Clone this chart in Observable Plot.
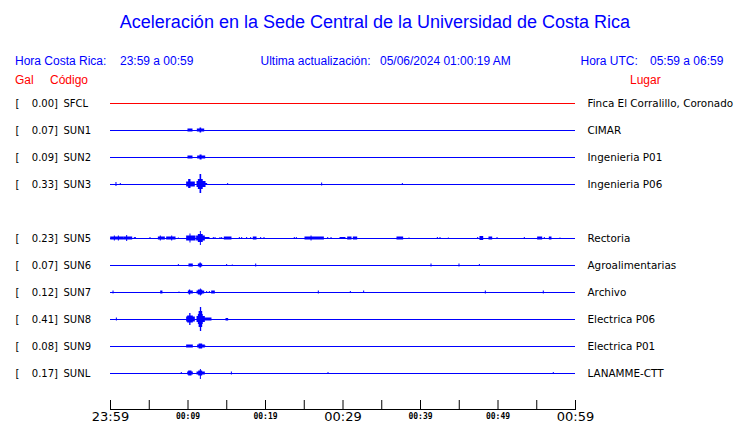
<!DOCTYPE html>
<html><head><meta charset="utf-8">
<script src="https://cdn.jsdelivr.net/npm/d3@7"></script>
<script src="https://cdn.jsdelivr.net/npm/@observablehq/plot@0.6"></script>
<style>
body{margin:0;background:#fff;}
#wrap{position:relative;width:740px;height:423px;overflow:hidden;font-family:"Liberation Sans",Arial,sans-serif;}
.h{position:absolute;white-space:pre;font-size:12px;line-height:14px;color:#0000ff;}
.r{color:#ff0000;}
#title{position:absolute;left:0;width:750px;text-align:center;top:11px;font-size:18px;line-height:22px;color:#0000ff;white-space:nowrap;}
#chart{position:absolute;left:0;top:90px;}
</style></head>
<body>
<div id="wrap">
  <div id="title">Aceleración en la Sede Central de la Universidad de Costa Rica</div>
  <div class="h" style="left:15px;top:53.5px">Hora Costa Rica:</div>
  <div class="h" style="left:120px;top:53.5px">23:59 a 00:59</div>
  <div class="h" style="left:260.5px;top:53.5px">Ultima actualización:</div>
  <div class="h" style="left:380px;top:53.5px">05/06/2024 01:00:19 AM</div>
  <div class="h" style="left:580.5px;top:53.5px">Hora UTC:</div>
  <div class="h" style="left:650px;top:53.5px">05:59 a 06:59</div>
  <div class="h r" style="left:15px;top:73px">Gal</div>
  <div class="h r" style="left:50px;top:73px">Código</div>
  <div class="h r" style="left:630px;top:73px">Lugar</div>
  <div id="chart"></div>
</div>
<script>
// Slots (rows) of the display; SUN4 has no trace
const slots = ["SFCL","SUN1","SUN2","SUN3","SUN4","SUN5","SUN6","SUN7","SUN8","SUN9","SUNL"];
const codes = ["SFCL","SUN1","SUN2","SUN3","SUN5","SUN6","SUN7","SUN8","SUN9","SUNL"];
const gal = [0.00,0.07,0.09,0.33,0.23,0.07,0.12,0.41,0.08,0.17];
const places = ["Finca El Corralillo, Coronado","CIMAR","Ingenieria P01","Ingenieria P06","Rectoria","Agroalimentarias","Archivo","Electrica P06","Electrica P01","LANAMME-CTT"];

// Time axis: minutes after 23:59
const tickMinutes = [0,5,10,15,20,25,30,35,40,45,50,55,60];
const majorMinutes = [0,30,60];
const minorMinutes = [10,20,40,50];
const tickLabels = {0:"23:59",10:"00:09",20:"00:19",30:"00:29",40:"00:39",50:"00:49",60:"00:59"};

// Bursts per station: [start min, end min, amplitude up, amplitude down] (trace counts)
const burstsSFCL = [];
const burstsSUN1 = [[10.06,10.58,1.5,1.5],[11.27,12.09,1.5,1.5],[11.62,11.70,2.5,2.5]];
const burstsSUN2 = [[10.06,10.58,1.5,1.5],[11.31,12.22,1.5,1.5],[11.62,11.75,2.5,2.5]];
const burstsSUN3 = [[0.77,0.77,2,2],[1.33,1.33,1,1],[9.89,10.88,2.5,2.5],[10.15,10.32,5,4],[11.23,12.26,3,3],[11.40,11.90,5,5],[11.62,11.70,10,9],[12.30,12.47,1,1],[15.18,15.18,1,1],[27.31,27.31,1.5,1.5],[37.72,37.72,1,0]];
const burstsSUN5 = [[0.09,1.72,1.5,1.5],[0.56,0.56,2.5,2.5],[1.08,1.08,2.5,2.5],[1.85,2.80,1.5,1.5],[2.15,2.15,3,3],[3.14,3.14,1,1],[3.27,3.27,1,1],[5.16,5.16,1,1],[6.24,7.01,1.5,1.5],[6.49,6.49,2.5,2.5],[7.31,8.39,1.5,1.5],[7.96,7.96,2.5,2.5],[8.82,8.82,0.5,0.5],[9.89,10.97,2.5,2.5],[10.32,10.32,4.5,4.5],[11.18,12.17,2.5,2.5],[11.40,11.90,4,4],[11.66,11.66,7,7],[12.17,12.77,1,1],[13.33,13.33,1,1],[13.55,13.55,1,1],[14.19,14.19,1,1],[14.41,14.41,1,1],[14.75,15.61,1.5,1.5],[16.69,16.69,1,1],[16.99,16.99,1,1],[17.63,17.63,1,1],[18.15,18.15,1,1],[18.49,18.84,1.5,1.5],[19.44,19.44,1,1],[19.87,19.87,1,1],[23.78,23.78,1,1],[24.04,24.04,1,1],[25.16,27.53,1.5,1.5],[25.94,25.94,2.5,2.5],[28.09,28.09,1,1],[28.52,28.52,1,1],[29.68,30.32,1,1],[30.67,31.10,1.5,1.5],[31.40,31.83,1.5,1.5],[37.03,37.76,1.5,1.5],[38.58,38.58,0.5,0.5],[42.24,42.24,1,0],[42.58,42.58,1,0],[43.66,43.66,0.5,0.5],[47.44,47.44,1,1],[47.74,48.09,2,2],[48.90,49.25,1.5,1.5],[49.94,49.94,1,1],[53.46,53.46,1,1],[55.18,55.70,1.5,1.5],[56.04,56.04,1,1],[56.69,56.90,1.5,1.5],[58.06,58.06,0.5,0.5]];
const burstsSUN6 = [[8.82,8.82,1,0],[10.19,10.62,1.5,1.5],[11.40,11.83,1.5,1.5],[11.61,11.66,2.5,2.5],[15.05,15.05,1,0.5],[15.78,15.78,0.5,0.5],[18.80,18.80,1.5,1.5],[41.42,41.42,1.5,1.5],[45.03,45.03,1.5,1.5],[47.66,47.66,1,0]];
const burstsSUN7 = [[0.39,0.39,1.5,1.5],[6.54,6.70,1.5,1.5],[8.90,8.90,0.5,0.5],[10.11,10.62,1.5,1.5],[10.24,10.28,2.5,2.5],[11.23,12.09,1.5,1.5],[11.40,11.83,2.5,2.5],[11.66,11.66,3.5,3.5],[12.47,12.47,1,1],[12.82,12.82,1,1],[13.12,13.46,1.5,1.5],[26.88,26.88,1.5,1.5],[31.01,31.01,1,0],[32.73,32.73,1.5,1],[48.43,48.43,1.5,1.5],[55.91,55.91,1.5,1.5]];
const burstsSUN8 = [[0.82,0.82,1.5,1.5],[9.89,10.88,2.5,2.5],[10.02,10.62,3.5,3.5],[10.28,10.32,6,6],[11.23,12.17,3,3],[11.40,11.90,5,5],[11.50,11.83,8,8],[11.66,11.70,12,12],[12.17,13.03,1.5,1.5],[14.97,15.18,1,1.5]];
const burstsSUN9 = [[9.89,10.62,1.5,1.5],[11.31,12.17,1.5,1.5],[11.50,11.83,2.5,2.5],[12.26,12.26,0.5,0.5]];
const burstsSUNL = [[9.20,9.20,1,1],[10.02,10.62,1.5,1.5],[10.15,10.45,2.5,2.5],[11.23,12.17,1.5,1.5],[11.45,11.83,2.5,2.5],[11.66,11.66,4,6],[15.66,15.66,1.5,1.5],[28.13,28.13,1,0],[57.20,57.20,1,0]];
const burstLists = [burstsSFCL,burstsSUN1,burstsSUN2,burstsSUN3,burstsSUN5,burstsSUN6,burstsSUN7,burstsSUN8,burstsSUN9,burstsSUNL];

const countsPerRow = 27; // trace counts spanning one row spacing
const stations = codes.map((c,i)=>({code:c, gal:gal[i], place:places[i], row:slots.indexOf(c), status: gal[i]===0 ? "sin señal" : "activa"}));
const bursts = stations.flatMap((s,i)=>burstLists[i].map(([t1,t2,up,down])=>({t1,t2,up,down,row:s.row,status:s.status})));

const chart = Plot.plot({
  width: 740, height: 333,
  marginLeft: 110, marginRight: 165, marginTop: 0, marginBottom: 14,
  style: {background: "white", overflow: "visible"},
  x: {domain: [0,60], range: [110,575], label: null},
  y: {domain: [0, slots.length-1], range: [13,283], axis: null},
  color: {domain: ["sin señal","activa"], range: ["#ff0000","#0000ff"]},
  marks: [
    Plot.ruleY(stations, {y:"row", x1:0, x2:60, stroke:"status", strokeWidth:1}),
    Plot.rect(bursts, {x1:"t1", x2:"t2", y1:d=>d.row - d.up/countsPerRow, y2:d=>d.row + d.down/countsPerRow, fill:"status", insetLeft:-0.5, insetRight:-0.5}),
    Plot.frame({anchor:"bottom", stroke:"black"}),
    Plot.axisX(tickMinutes, {tickSize:-9, tickFormat:()=>"", label:null, stroke:"black"}),
    Plot.text(majorMinutes, {x:d=>d, text:d=>tickLabels[d], frameAnchor:"bottom", dy:7, fontSize:13, fontFamily:"DejaVu Sans", fill:"black", lineAnchor:"middle"}),
    Plot.text(minorMinutes, {x:d=>d, text:d=>tickLabels[d], frameAnchor:"bottom", dy:6.5, fontSize:8, fontFamily:"DejaVu Sans Mono", fontWeight:"bold", fill:"black", lineAnchor:"middle"}),
    Plot.text(stations, {y:"row", text:()=>"[", frameAnchor:"left", dx:-95, textAnchor:"start", fontSize:10, fontFamily:"DejaVu Sans", fill:"black"}),
    Plot.text(stations, {y:"row", text:d=>d.gal.toFixed(2)+"]", frameAnchor:"left", dx:-52.5, textAnchor:"end", fontSize:10, fontFamily:"DejaVu Sans", fill:"black"}),
    Plot.text(stations, {y:"row", text:"code", frameAnchor:"left", dx:-47, textAnchor:"start", fontSize:10, fontFamily:"DejaVu Sans", fill:"black"}),
    Plot.text(stations, {y:"row", text:"place", frameAnchor:"right", dx:12, textAnchor:"start", fontSize:10.4, fontFamily:"DejaVu Sans", fill:"black"})
  ]
});
document.getElementById("chart").appendChild(chart);
</script>
</body></html>
